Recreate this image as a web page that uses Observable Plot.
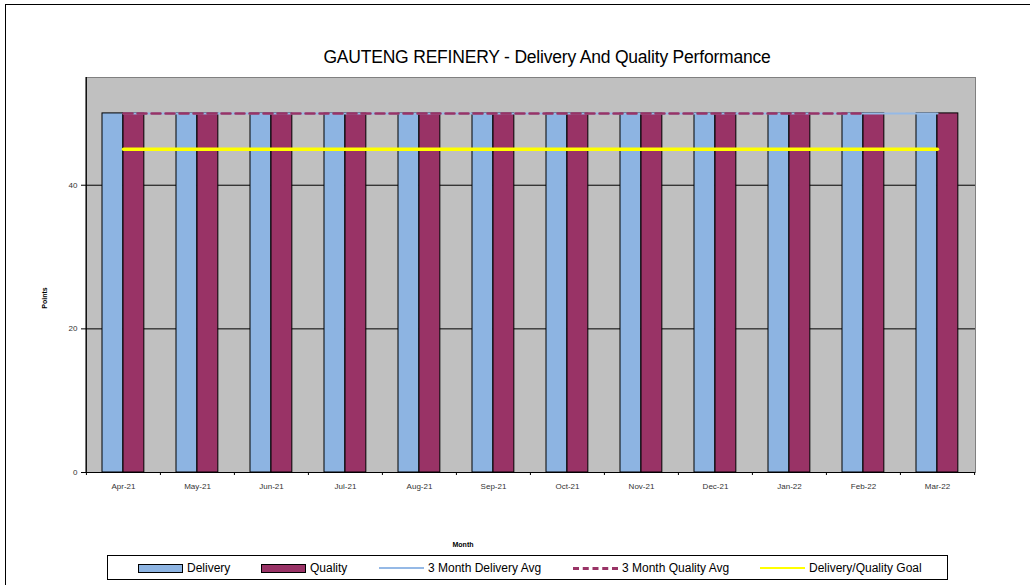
<!DOCTYPE html>
<html><head><meta charset="utf-8">
<script src="https://cdn.jsdelivr.net/npm/d3@7"></script>
<script src="https://cdn.jsdelivr.net/npm/@observablehq/plot@0.6"></script>
<style>
html,body{margin:0;padding:0;background:#fff;overflow:hidden;}
#wrap{position:relative;width:1030px;height:585px;font-family:"Liberation Sans",Arial,sans-serif;}
#border{position:absolute;left:5px;top:4px;width:1100px;height:1000px;border:1.5px solid #000;}
#chart{position:absolute;left:0;top:0;}
#title{position:absolute;left:0;width:1094px;top:47px;text-align:center;font-size:17.5px;color:#000;letter-spacing:-0.2px;}
#ylab{position:absolute;left:44px;top:298px;font-size:7px;font-weight:bold;transform:translate(-50%,-50%) rotate(-90deg);}
#xlab{position:absolute;left:463px;top:544px;font-size:7px;font-weight:bold;transform:translate(-50%,-50%);}
#legend{position:absolute;left:107px;top:555px;width:839px;height:23px;border:1.5px solid #000;background:#fff;font-size:12px;}
.li{position:absolute;top:5px;display:flex;align-items:center;height:14px;}
.sw{width:43px;height:7px;border:1px solid #000;margin-right:4px;}
.ln{width:45px;height:0;margin-right:4px;}
</style></head>
<body>
<div id="wrap">
<div id="border"></div>
<div id="chart"></div>
<div id="title">GAUTENG REFINERY - Delivery And Quality Performance</div>
<div id="ylab">Points</div>
<div id="xlab">Month</div>
<div id="legend"></div>
</div>
<script>
const months = ["Apr-21","May-21","Jun-21","Jul-21","Aug-21","Sep-21","Oct-21","Nov-21","Dec-21","Jan-22","Feb-22","Mar-22"];
const delivery = [50,50,50,50,50,50,50,50,50,50,50,50];
const quality = [50,50,50,50,50,50,50,50,50,50,50,50];
const deliveryAvg = [50,50,50,50,50,50,50,50,50,50,50,50];
const qualityAvg = [50,50,50,50,50,50,50,50,50,50,50,null];
const goal = [45,45,45,45,45,45,45,45,45,45,45,45];
const yTicks = [0,20,40];

const colors = {delivery:"#8DB4E2", quality:"#993366", deliveryAvg:"#95B9E6", qualityAvg:"#993366", goal:"#FFFF00"};
const rows = months.map((m,i)=>({month:m, delivery:delivery[i], quality:quality[i], dAvg:deliveryAvg[i], qAvg:qualityAvg[i], goal:goal[i]}));

const W = 1030, H = 585, ML = 85, MR = 55, MT = 77, MB = 113;
const bw = (W - ML - MR) / months.length;

const plot = Plot.plot({
  width: W, height: H,
  marginLeft: ML, marginRight: MR, marginTop: MT, marginBottom: MB,
  style: {fontFamily: "Liberation Sans, Arial, sans-serif", fontSize: "8px", background: "transparent", color: "#000"},
  x: {type: "band", domain: months, padding: 0, label: null},
  y: {domain: [0, 55], label: null},
  marks: [
    Plot.frame({fill: "#C0C0C0", stroke: "#808080"}),
    Plot.ruleY([20, 40], {stroke: "#000", strokeWidth: 1}),
    Plot.barY(rows, {x: "month", y: "delivery", fill: colors.delivery, stroke: "#000", strokeWidth: 1, insetLeft: 16, insetRight: bw - 37}),
    Plot.barY(rows, {x: "month", y: "quality", fill: colors.quality, stroke: "#000", strokeWidth: 1, insetLeft: 37, insetRight: bw - 58}),
    Plot.lineY(rows, {x: "month", y: "dAvg", stroke: colors.deliveryAvg, strokeWidth: 2}),
    Plot.lineY(rows.filter(d => d.qAvg != null), {x: "month", y: "qAvg", stroke: colors.qualityAvg, strokeWidth: 2.5, strokeDasharray: "9,5"}),
    Plot.lineY(rows, {x: "month", y: "goal", stroke: colors.goal, strokeWidth: 3.5}),
    Plot.ruleX([months[0]], {dx: -bw/2, stroke: "#000"}),
    Plot.ruleY([0], {stroke: "#000"}),
    Plot.axisY({ticks: yTicks, tickSize: 4, tickPadding: 4, label: null, fontSize: 8, fill: "#333"}),
    Plot.axisX({tickSize: 0, tickPadding: 11, label: null, fontSize: 8, fill: "#333"}),
    Plot.axisX({ticks: months, tickSize: 3, dx: -bw/2, tickFormat: () => "", label: null}),
    Plot.axisX({ticks: [months[months.length-1]], tickSize: 3, dx: bw/2, tickFormat: () => "", label: null})
  ]
});
document.getElementById("chart").append(plot);

const legendItems = [
  {label: "Delivery", x: 30, kind: "box", color: colors.delivery},
  {label: "Quality", x: 153, kind: "box", color: colors.quality},
  {label: "3 Month Delivery Avg", x: 271, kind: "line", color: colors.deliveryAvg, dash: "solid", w: 2},
  {label: "3 Month Quality Avg", x: 465, kind: "line", color: colors.qualityAvg, dash: "dashed", w: 3},
  {label: "Delivery/Quality Goal", x: 652, kind: "line", color: colors.goal, dash: "solid", w: 2}
];
const lg = document.getElementById("legend");
for (const it of legendItems) {
  const d = document.createElement("div");
  d.className = "li"; d.style.left = it.x + "px";
  const s = document.createElement("div");
  if (it.kind === "box") { s.className = "sw"; s.style.background = it.color; }
  else { s.className = "ln"; s.style.borderTop = `${it.w}px ${it.dash} ${it.color}`; }
  const t = document.createElement("span"); t.textContent = it.label;
  d.append(s, t); lg.append(d);
}
</script>
</body></html>
